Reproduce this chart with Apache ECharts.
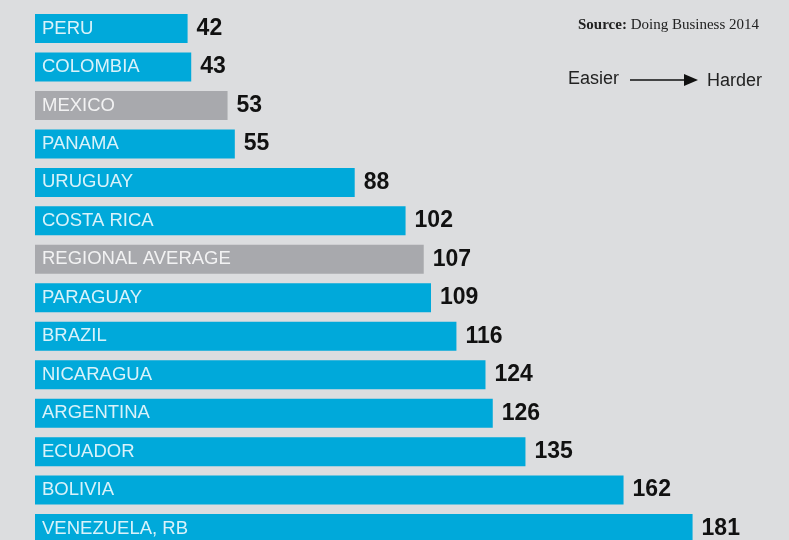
<!DOCTYPE html>
<html>
<head>
<meta charset="utf-8">
<script src="https://cdn.jsdelivr.net/npm/echarts@6/dist/echarts.min.js"></script>
<style>
html,body{margin:0;padding:0;background:#dcdddf;overflow:hidden;}
#chart{width:789px;height:560px;}
</style>
</head>
<body>
<div id="chart"></div>
<script>
const categories = ["PERU","COLOMBIA","MEXICO","PANAMA","URUGUAY","COSTA RICA","REGIONAL AVERAGE","PARAGUAY","BRAZIL","NICARAGUA","ARGENTINA","ECUADOR","BOLIVIA","VENEZUELA, RB"];
const values = [42,43,53,55,88,102,107,109,116,124,126,135,162,181];
const grayCategories = ["MEXICO","REGIONAL AVERAGE"];
const sourceBold = "Source:";
const sourceText = "Doing Business 2014";
const legendLeft = "Easier";
const legendRight = "Harder";

const BLUE = "#00a9da";
const GRAY = "#a8a9ad";

const chart = echarts.init(document.getElementById('chart'), null, {renderer:'canvas'});
const barData = categories.map((c,i)=>({
  value: values[i],
  itemStyle: {color: grayCategories.includes(c) ? GRAY : BLUE}
}));

chart.setOption({
  backgroundColor: "#dcdddf",
  animation: false,
  grid: {left: 35, top: 9.3, width: 726.6, height: 538.5, containLabel: false},
  xAxis: {type:'value', min:0, max:200, show:false},
  yAxis: {type:'category', data: categories, inverse:true, show:false},
  series: [
    {
      type:'bar', data: barData, barWidth: 29,
      label: {show:true, position:'insideLeft', distance:7, formatter:'{b}',
        color:'rgba(255,255,255,0.85)', fontFamily:'Liberation Sans', fontSize:18.5}
    },
    {
      type:'bar', data: values, barWidth: 29, barGap:'-100%',
      itemStyle:{color:'transparent'}, silent:true,
      label: {show:true, position:'right', distance:9, formatter:'{c}',
        color:'#111', fontFamily:'Liberation Sans', fontWeight:'bold', fontSize:23}
    }
  ],
  graphic: [
    {type:'text', right:30, top:18, style:{
      text: '{b|' + sourceBold + '} ' + sourceText,
      rich:{b:{fontWeight:'bold', fontFamily:'Liberation Serif', fontSize:15, fill:'#222'}},
      font:'15px "Liberation Serif"', fill:'#222'}},
    {type:'text', left:568, top:70, style:{text:legendLeft, font:'18px "Liberation Sans"', fill:'#222'}},
    {type:'line', shape:{x1:630, y1:80, x2:686, y2:80}, style:{stroke:'#111', lineWidth:1.5}},
    {type:'polygon', shape:{points:[[684,74],[698,80],[684,86]]}, style:{fill:'#111'}},
    {type:'text', left:707, top:72, style:{text:legendRight, font:'18px "Liberation Sans"', fill:'#222'}}
  ]
});
</script>
</body>
</html>
